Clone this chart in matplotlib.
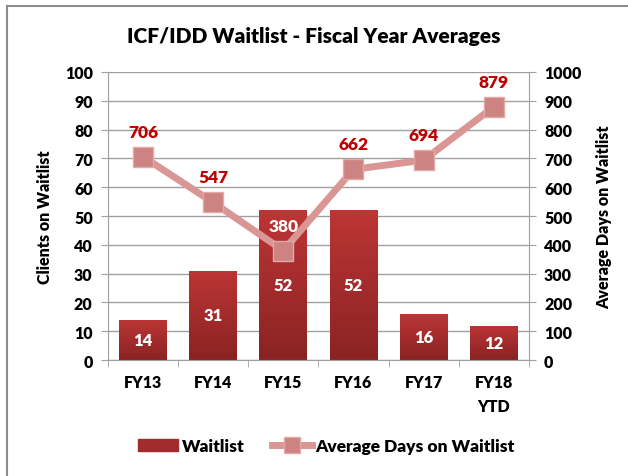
import numpy as np
import matplotlib.pyplot as plt
from matplotlib.lines import Line2D
from matplotlib.patches import Patch
from matplotlib.colors import LinearSegmentedColormap

# data
categories = ['FY13', 'FY14', 'FY15', 'FY16', 'FY17', 'FY18\nYTD']
waitlist = [14, 31, 52, 52, 16, 12]
avg_days = [706, 547, 380, 662, 694, 879]

plt.rcParams['font.family'] = ['Lato', 'DejaVu Sans']
W = 'heavy'

bar_dark, bar_light = '#8a2323', '#bd3535'
line_col = '#d99694'
grid_col = '#a0a0a0'

fig = plt.figure(figsize=(6.28, 4.77), dpi=100)
ax = fig.add_axes([0.172, 0.243, 0.67, 0.604])
ax2 = ax.twinx()

x = np.arange(len(categories))

# bars with a vertical gradient
bars = ax.bar(x, waitlist, width=0.68, color=bar_dark, zorder=2)
cmap = LinearSegmentedColormap.from_list('bar', [bar_dark, bar_light])
grad = np.linspace(0, 1, 100).reshape(-1, 1)
for b in bars:
    x0, h, w = b.get_x(), b.get_height(), b.get_width()
    im = ax.imshow(grad, extent=[x0, x0 + w, 0, h], origin='lower', cmap=cmap,
                   aspect='auto', zorder=2)
    im.set_clip_path(b)

for xi, v in zip(x, waitlist):
    ax.text(xi, v / 2, str(v), color='white', ha='center', va='center',
            fontsize=12, fontweight=W, zorder=3)

ax.set_xlim(-0.5, len(categories) - 0.5)
ax.set_ylim(0, 100)
ax.set_yticks(np.arange(0, 101, 10))
ax.grid(axis='y', color=grid_col, lw=1)
ax.set_axisbelow(True)

# line on the secondary axis
ax2.plot(x, avg_days, color=line_col, lw=5, marker='s', ms=14,
         mfc='#cc8381', mec='#e2a9a7', mew=1, zorder=3)
ax2.set_ylim(0, 1000)
ax2.set_yticks(np.arange(0, 1001, 100))
for xi, v, b in zip(x, avg_days, waitlist):
    # label sits inside a bar -> white text
    inside = v / 10 + 9 < b
    ax2.annotate(str(v), (xi, v), xytext=(0, 18), textcoords='offset points',
                 ha='center', va='center', fontsize=12.5, fontweight=W,
                 color='white' if inside else '#c00000')

# axes styling
ax.set_xticks(x, categories, linespacing=1.6, fontweight=W)
ax.set_xticks(np.arange(-0.5, len(categories)), minor=True)
ax.tick_params(axis='x', which='major', length=0, pad=10, labelsize=11.5)
ax.tick_params(axis='x', which='minor', length=5, color=grid_col)
ax.tick_params(axis='y', length=5, color=grid_col, labelsize=11.5, pad=6)
ax2.tick_params(axis='y', length=5, color=grid_col, labelsize=11.5, pad=6)
for lab in ax.get_yticklabels() + ax2.get_yticklabels():
    lab.set_fontweight(W)
for a in (ax, ax2):
    for s in a.spines.values():
        s.set_visible(False)
ax.spines['left'].set_visible(True)
ax.spines['bottom'].set_visible(True)
ax2.spines['right'].set_visible(True)
ax.spines['left'].set_color(grid_col)
ax.spines['bottom'].set_color(grid_col)
ax2.spines['right'].set_color(grid_col)

ax.set_ylabel('Clients on Waitlist', fontsize=11.5, fontweight=W)
ax.yaxis.set_label_coords(-0.131, 0.5)
ax2.set_ylabel('Average Days on Waitlist', fontsize=11.5, fontweight=W)
ax2.yaxis.set_label_coords(1.161, 0.5)

fig.text(0.5, 1 - 36 / 477, 'ICF/IDD Waitlist - Fiscal Year Averages',
         ha='center', va='center', fontsize=15, fontweight=W)

handles = [Patch(color='#a02c2c'),
           Line2D([], [], color=line_col, lw=5, marker='s', ms=12,
                  mfc='#cc8381', mec='#e2a9a7')]
fig.legend(handles, ['Waitlist', 'Average Days on Waitlist'], loc='center',
           bbox_to_anchor=(0.52, 0.063), ncol=2, frameon=False,
           prop={'size': 12.5, 'weight': W},
           handlelength=2.3, handletextpad=0.2, columnspacing=1.6)

# outer frame (left and top edges visible)
fig.add_artist(Line2D([7 / 628, 7 / 628], [0, 1 - 7 / 477],
                      transform=fig.transFigure, color='#8c8c8c', lw=1.5))
fig.add_artist(Line2D([7 / 628, 1], [1 - 7 / 477, 1 - 7 / 477],
                      transform=fig.transFigure, color='#8c8c8c', lw=1.5))

fig.savefig('out.png', dpi=100)
